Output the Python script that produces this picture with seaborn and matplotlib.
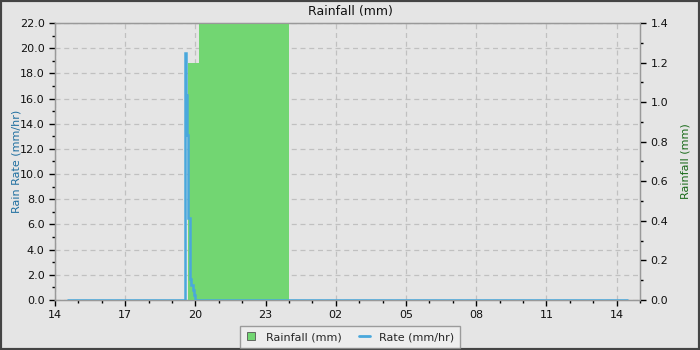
import matplotlib
matplotlib.use("Agg")
import matplotlib.pyplot as plt
import seaborn as sns
import pandas as pd
from matplotlib.lines import Line2D
from matplotlib.patches import Rectangle
from matplotlib.ticker import MultipleLocator, FormatStrFormatter

# ---- data (hours since 14:00) ----
rate_hours = [0.5, 5.54, 5.60, 5.65, 5.70, 5.75, 5.79, 5.83, 5.88, 5.93, 5.98, 24.5]
rate_values = [0.0, 19.6, 16.3, 13.1, 6.5, 3.2, 1.7, 1.2, 0.8, 0.4, 0.0, 0.0]
rain_hours = [0.5, 5.68, 6.15, 10.0, 24.5]
rain_values = [0.0, 1.2, 1.4, 0.0, 0.0]
tick_hours = [0, 3, 6, 9, 12, 15, 18, 21, 24]
tick_labels = ["14", "17", "20", "23", "02", "05", "08", "11", "14"]

BG = "#e5e5e5"
RATE_C = "#4aa8dc"
RAIN_C = "#72d672"

sns.set_style("whitegrid")
plt.rcParams["font.family"] = ["DejaVu Sans"]

fig = plt.figure(figsize=(7, 3.5), dpi=100, facecolor=BG)
ax = fig.add_axes([55/700, 50/350, 585/700, 277/350])
ax.set_facecolor(BG)

# host axis: grid + left ticks
ax.set_xlim(0, 25)
ax.set_ylim(0, 22)
ax.set_xticks(tick_hours)
ax.set_xticklabels(tick_labels)
ax.xaxis.set_minor_locator(MultipleLocator(1))
ax.yaxis.set_major_locator(MultipleLocator(2))
ax.yaxis.set_minor_locator(MultipleLocator(1))
ax.yaxis.set_major_formatter(FormatStrFormatter("%.1f"))
ax.grid(True, which="major", color="#c0c0c0", linestyle=(0, (4, 3)), linewidth=0.9)
ax.tick_params(axis="both", which="major", direction="out", length=4, width=1,
               color="black", labelsize=8, labelcolor="#111111", left=True, bottom=True)
ax.tick_params(axis="both", which="minor", direction="out", length=2.5, width=1,
               color="black", left=True, bottom=True)
ax.set_ylabel("Rain Rate (mm/hr)", color="#1f6fa0", fontsize=8, labelpad=-1)
for s in ax.spines.values():
    s.set_color("#999999")
    s.set_linewidth(1)

# rainfall on twin axis
ax2 = ax.twinx()
ax2.set_ylim(0, 1.4)
ax2.fill_between(rain_hours, rain_values, step="post", color=RAIN_C, linewidth=0)
ax2.yaxis.set_major_locator(MultipleLocator(0.2))
ax2.yaxis.set_minor_locator(MultipleLocator(0.1))
ax2.yaxis.set_major_formatter(FormatStrFormatter("%.1f"))
ax2.grid(False)
ax2.tick_params(axis="y", which="major", direction="out", length=4, width=1,
                color="black", labelsize=8, labelcolor="#111111", right=True)
ax2.tick_params(axis="y", which="minor", direction="out", length=2.5, width=1,
                color="black", right=True)
ax2.set_ylabel("Rainfall (mm)", color="#1a6b1a", fontsize=8, labelpad=9)
for s in ax2.spines.values():
    s.set_color("#999999")

# rate on top axis
ax3 = ax.twinx()
ax3.set_ylim(0, 22)
df = pd.DataFrame({"t": rate_hours, "rate": rate_values})
sns.lineplot(data=df, x="t", y="rate", ax=ax3, color=RATE_C, linewidth=1.8,
             drawstyle="steps-post", estimator=None, sort=False,
             solid_joinstyle="miter", solid_capstyle="butt")
ax3.set_xlim(0, 25)
ax3.grid(False)
ax3.set_yticks([])
ax3.set_ylabel("")
ax3.set_xlabel("")
ax3.patch.set_visible(False)
for s in ax3.spines.values():
    s.set_visible(False)
ax.set_xlabel("")
ax.set_xlim(0, 25)

ax.set_zorder(0)
ax2.set_zorder(1)
ax3.set_zorder(2)
ax2.patch.set_visible(False)

fig.text(0.5, 1 - 11.5/350, "Rainfall (mm)", ha="center", va="center",
         fontsize=9, color="#111111")

handles = [
    Line2D([], [], marker="s", linestyle="none", markersize=6,
           markerfacecolor=RAIN_C, markeredgecolor="#555555", markeredgewidth=0.6),
    Line2D([], [], color=RATE_C, linewidth=2),
]
leg = fig.legend(handles, ["Rainfall (mm)", "Rate (mm/hr)"], loc="center",
                 bbox_to_anchor=(0.5, 13/350), ncol=2, fontsize=8, frameon=True,
                 fancybox=False, handlelength=1.0, handletextpad=0.8, columnspacing=1.6,
                 borderpad=0.5)
leg.get_frame().set_facecolor("#f0f0f0")
leg.get_frame().set_edgecolor("#888888")
leg.get_frame().set_linewidth(1)

fig.patches.append(Rectangle((0, 0), 1, 1, transform=fig.transFigure, fill=False,
                             edgecolor="#444444", linewidth=3))

fig.savefig("out.png", dpi=100, facecolor=BG)
